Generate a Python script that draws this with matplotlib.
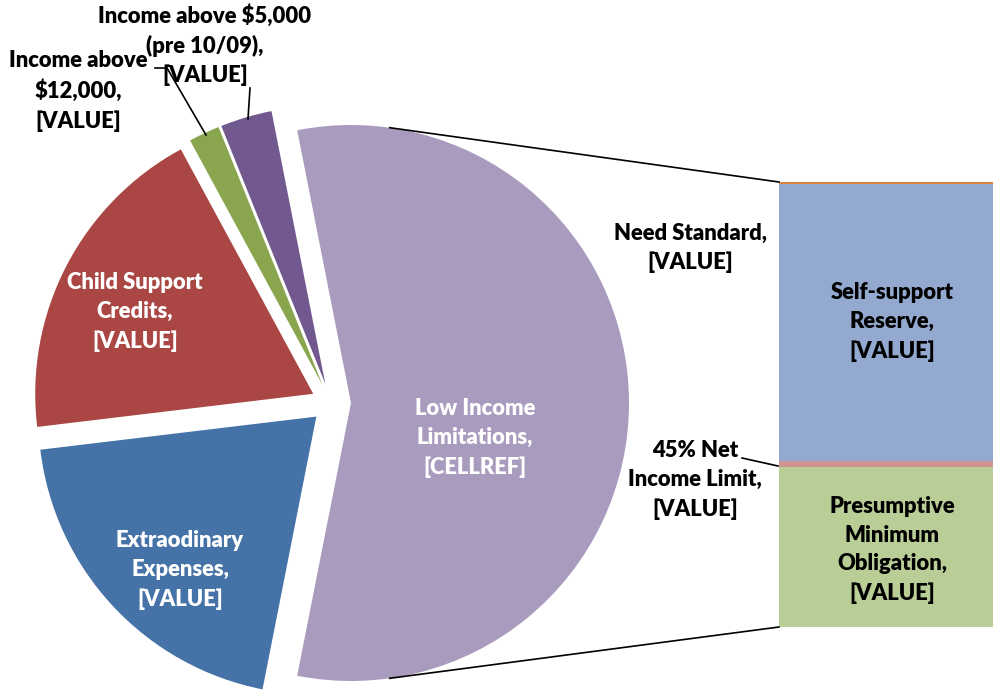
import numpy as np
import matplotlib
matplotlib.use('Agg')
from matplotlib import pyplot as plt

W, H = 993, 690

# Pie slices, counterclockwise starting from the split-off slice
pie_labels = ['Low Income\nLimitations,\n[CELLREF]',
              'Income above $5,000\n(pre 10/09),\n[VALUE]',
              'Income above\n$12,000,\n[VALUE]',
              'Child Support\nCredits,\n[VALUE]',
              'Extraodinary\nExpenses,\n[VALUE]']
pie_values = [56.2, 3.0, 1.8, 19.0, 20.0]
pie_colors = ['#A99BBD', '#71588F', '#89A54E', '#AA4643', '#4572A7']

# Secondary bar, bottom to top
bar_labels = ['Presumptive\nMinimum\nObligation,\n[VALUE]',
              '45% Net\nIncome Limit,\n[VALUE]',
              'Self-support\nReserve,\n[VALUE]',
              'Need Standard,\n[VALUE]']
bar_values = [36.0, 1.2, 62.4, 0.4]
bar_colors = ['#B9CD96', '#D09493', '#93A9CF', '#DB843D']

plt.rcParams['font.family'] = ['Lato', 'DejaVu Sans']

fig = plt.figure(figsize=(W / 100, H / 100), dpi=100)
ax = fig.add_axes([0, 0, 1, 1])

# pie geometry in pixels (y up)
cx, cy, r = 331, H - 403, 278
expl = 20  # explode offset in pixels
start = -pie_values[0] / sum(pie_values) * 360 / 2
wedges, _ = ax.pie(pie_values, colors=pie_colors, startangle=start,
                   radius=r, center=(cx, cy), explode=[expl] * 5,
                   wedgeprops=dict(linewidth=0))

# bar of pie
bar_x0, bar_x1 = 779, 993
bar_top, bar_bot = H - 182, H - 627
scale = (bar_top - bar_bot) / sum(bar_values)
bottom = bar_bot
for v, c in zip(bar_values, bar_colors):
    ax.bar((bar_x0 + bar_x1) / 2, v * scale, width=bar_x1 - bar_x0,
           bottom=bottom, color=c, linewidth=0)
    bottom += v * scale

# connector lines from the split slice to the bar
lx = cx + expl
for sgn, by in [(1, bar_top), (-1, bar_bot)]:
    a = np.deg2rad(82 * sgn)
    ax.plot([lx + r * np.cos(a), bar_x0], [cy + r * np.sin(a), by],
            color='black', lw=1.2)

fs = 15.8
ls = 1.45
white = dict(color='white', fontsize=fs, fontweight='heavy', ha='center',
             va='center', linespacing=ls)
black = dict(white, color='black')

ax.text(475, H - 438, pie_labels[0], **white)
ax.text(205, H - 45, pie_labels[1], **black)
ax.text(78, H - 91, pie_labels[2], **black)
ax.text(135, H - 312, pie_labels[3], **white)
ax.text(180, H - 570, pie_labels[4], **white)

ax.text(892, H - 550, bar_labels[0], **black)
ax.text(695, H - 480, bar_labels[1], **black)
ax.text(892, H - 322, bar_labels[2], **black)
ax.text(690, H - 248, bar_labels[3], **black)

# leader lines
ax.plot([250, 248], [H - 88, H - 119], color='black', lw=1.2)
ax.plot([155, 167, 206], [H - 68, H - 68, H - 135], color='black', lw=1.2)
ax.plot([742, 778], [H - 458, H - 466], color='black', lw=1.2)

ax.set_xlim(0, W)
ax.set_ylim(0, H)
ax.set_aspect('equal')
ax.axis('off')

fig.savefig('out.png', dpi=100)
